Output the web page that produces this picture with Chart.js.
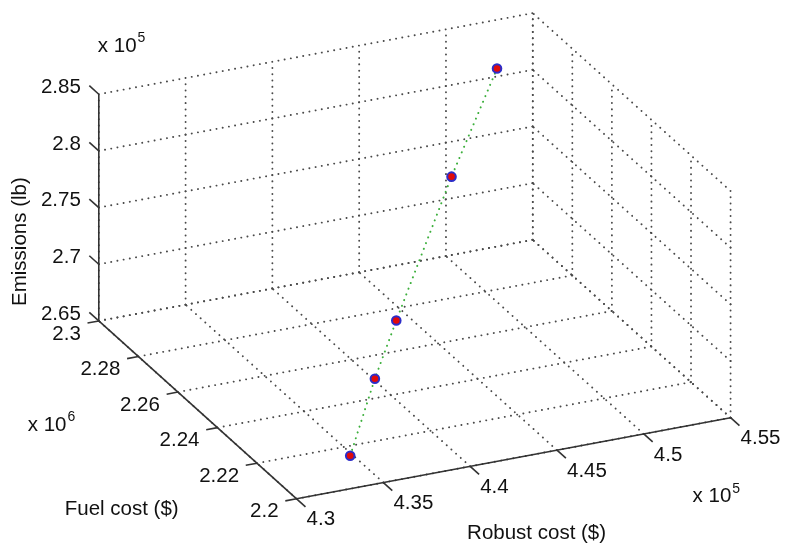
<!DOCTYPE html>
<html>
<head>
<meta charset="utf-8">
<title>Robust cost / Fuel cost / Emissions</title>
<script src="https://cdn.jsdelivr.net/npm/chart.js@4.4.1/dist/chart.umd.min.js"></script>
<style>
	html, body { margin: 0; padding: 0; background: #fff; }
	#wrap { width: 791px; height: 552px; }
</style>
</head>
<body>
<div id="wrap"><canvas id="canvasPareto" width="791" height="552"></canvas></div>
<script>
// ticks (robust x 10^5, fuel x 10^6, emissions x 10^5)
var robustTicks = [4.3, 4.35, 4.4, 4.45, 4.5, 4.55];
var fuelTicks = [2.2, 2.22, 2.24, 2.26, 2.28, 2.3];
var emissionTicks = [2.65, 2.7, 2.75, 2.8, 2.85];

// solutions
var robustCost = [4.340, 4.377, 4.403, 4.469, 4.518];
var fuelCost = [2.208, 2.228, 2.240, 2.270, 2.290];
var emissions = [2.664, 2.690, 2.715, 2.776, 2.826];

var FONT = "'Liberation Sans', Arial, sans-serif";

// 3d box seen from the front-left corner (az/el view), sizes in px
var view = { left: 94, top: 322, robust: [441, -83], fuel: [201, 182], height: 232 };

var rMin = robustTicks[0], rMax = robustTicks[robustTicks.length - 1];
var fMin = fuelTicks[0], fMax = fuelTicks[fuelTicks.length - 1];
var zMin = emissionTicks[0], zMax = emissionTicks[emissionTicks.length - 1];

function project(r, f, z){
	var a = (r - rMin) / (rMax - rMin);
	var b = (fMax - f) / (fMax - fMin);
	var c = (z - zMin) / (zMax - zMin);
	return {
		x: view.left + view.robust[0] * a + view.fuel[0] * b,
		y: view.top + view.robust[1] * a + view.fuel[1] * b - view.height * c
	};
}

function extend(a, b){ for (var k in b) a[k] = b[k]; return a; }

function segment(p, q, style){
	return extend({
		data: [project(p[0], p[1], p[2]), project(q[0], q[1], q[2])],
		showLine: true,
		pointRadius: 0,
		pointHoverRadius: 0
	}, style);
}

var gridStyle = { borderColor: '#4a4a4a', borderWidth: 1.9, borderDash: [0.1, 6.2], borderCapStyle: 'round', order: 3 };
var axisStyle = { borderColor: '#333', borderWidth: 1.6, order: 2 };

var datasets = [];

// floor
robustTicks.forEach(function(r){ datasets.push(segment([r, fMin, zMin], [r, fMax, zMin], gridStyle)); });
fuelTicks.forEach(function(f){ datasets.push(segment([rMin, f, zMin], [rMax, f, zMin], gridStyle)); });
// back wall at fuel max
robustTicks.forEach(function(r){ datasets.push(segment([r, fMax, zMin], [r, fMax, zMax], gridStyle)); });
emissionTicks.forEach(function(z){ datasets.push(segment([rMin, fMax, z], [rMax, fMax, z], gridStyle)); });
// back wall at robust max
fuelTicks.forEach(function(f){ datasets.push(segment([rMax, f, zMin], [rMax, f, zMax], gridStyle)); });
emissionTicks.forEach(function(z){ datasets.push(segment([rMax, fMin, z], [rMax, fMax, z], gridStyle)); });

// axes and tick marks
datasets.push(segment([rMin, fMax, zMin], [rMin, fMax, zMax], axisStyle));
datasets.push(segment([rMin, fMax, zMin], [rMin, fMin, zMin], axisStyle));
datasets.push(segment([rMin, fMin, zMin], [rMax, fMin, zMin], axisStyle));
emissionTicks.forEach(function(z){ datasets.push(segment([rMin, fMax, z], [rMin, fMax + 0.0048, z], axisStyle)); });
fuelTicks.forEach(function(f){ datasets.push(segment([rMin, f, zMin], [rMin - 0.0065, f, zMin], axisStyle)); });
robustTicks.forEach(function(r){ datasets.push(segment([r, fMin, zMin], [r, fMin - 0.0045, zMin], axisStyle)); });

// solutions line
var toPoints = [];
robustCost.forEach(function(r, i){ toPoints.push(project(r, fuelCost[i], emissions[i])); });
datasets.push({
	data: toPoints,
	showLine: true,
	borderColor: 'rgb(60,175,60)',
	borderWidth: 2,
	borderDash: [0.1, 6],
	borderCapStyle: 'round',
	pointRadius: 4.3,
	pointBorderWidth: 2,
	pointBorderColor: 'rgb(45,45,200)',
	pointBackgroundColor: 'rgb(225,10,10)',
	order: 0
});

function drawPow(ctx, x, y, exp){
	ctx.textAlign = 'left';
	ctx.textBaseline = 'middle';
	ctx.font = '20.5px ' + FONT;
	ctx.fillText('x 10', x, y);
	var w = ctx.measureText('x 10').width;
	ctx.font = '14px ' + FONT;
	ctx.fillText(exp, x + w + 1, y - 8);
}

var labelPlugin = {
	id: 'boxLabels',
	afterDraw: function(chart){
		var ctx = chart.ctx;
		var sx = chart.scales.x, sy = chart.scales.y;
		function px(p){ return { x: sx.getPixelForValue(p.x), y: sy.getPixelForValue(p.y) }; }
		ctx.save();
		ctx.fillStyle = '#111';
		ctx.font = '20.5px ' + FONT;
		ctx.textBaseline = 'middle';

		ctx.textAlign = 'right';
		emissionTicks.forEach(function(z){
			var p = px(project(rMin, fMax, z));
			ctx.fillText(String(z), p.x - 18, p.y - 7);
		});
		fuelTicks.forEach(function(f){
			var p = px(project(rMin, f, zMin));
			ctx.fillText(String(f), p.x - 18, p.y + 13);
		});
		ctx.textAlign = 'left';
		robustTicks.forEach(function(r){
			var p = px(project(r, fMin, zMin));
			ctx.fillText(String(r), p.x + 10, p.y + 21);
		});

		var zTop = px(project(rMin, fMax, zMax));
		drawPow(ctx, zTop.x - 1, zTop.y - 48, '5');
		var fMid = px(project(rMin, (fMin + fMax) / 2, zMin));
		drawPow(ctx, fMid.x - 170, fMid.y + 15, '6');
		var rEnd = px(project(rMax, fMin, zMin));
		drawPow(ctx, rEnd.x - 38, rEnd.y + 79, '5');

		ctx.font = '20.5px ' + FONT;
		ctx.textAlign = 'center';
		var rMid = px(project((rMin + rMax) / 2, fMin, zMin));
		ctx.fillText('Robust cost ($)', rMid.x + 23, rMid.y + 75);
		ctx.fillText('Fuel cost ($)', fMid.x - 76, fMid.y + 99);
		var zMid = px(project(rMin, fMax, (zMin + zMax) / 2));
		ctx.translate(zMid.x - 78, zMid.y + 34);
		ctx.rotate(-Math.PI / 2);
		ctx.fillText('Emissions (lb)', 0, 0);
		ctx.restore();
	}
};

window.onload = function(){
	var ctx = document.getElementById('canvasPareto').getContext('2d');
	window.myScatter = new Chart(ctx, {
		type: 'scatter',
		data: { datasets: datasets },
		plugins: [labelPlugin],
		options: {
			responsive: false,
			animation: false,
			devicePixelRatio: 1,
			layout: { padding: 0 },
			plugins: { legend: { display: false }, tooltip: { enabled: false } },
			scales: {
				x: { type: 'linear', min: 0, max: 791, display: false },
				y: { type: 'linear', min: 0, max: 552, reverse: true, display: false }
			}
		}
	});
};
</script>
</body>
</html>
